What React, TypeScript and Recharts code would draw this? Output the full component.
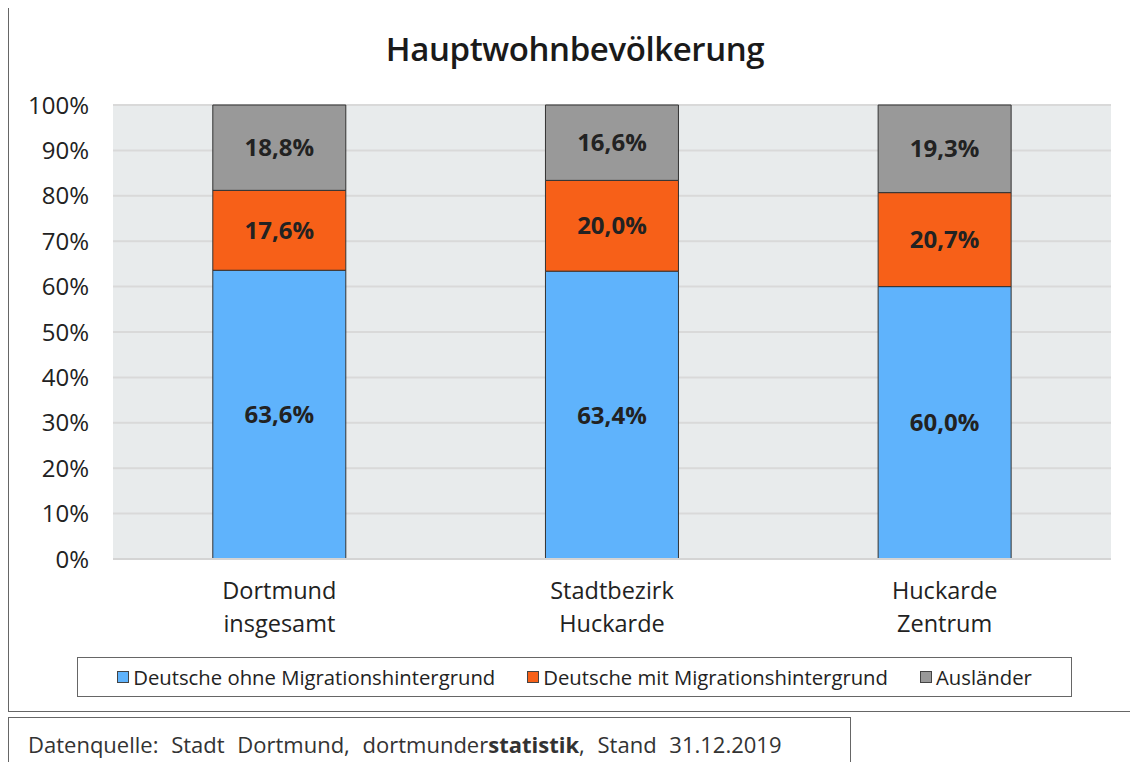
import React from "react";
import { BarChart, Bar, XAxis, YAxis, CartesianGrid, LabelList } from "recharts";

const categories = ["Dortmund\ninsgesamt", "Stadtbezirk\nHuckarde", "Huckarde\nZentrum"];
const ohneMigration = [63.6, 63.4, 60.0];
const mitMigration = [17.6, 20.0, 20.7];
const auslaender = [18.8, 16.6, 19.3];
const yTicks = [0, 10, 20, 30, 40, 50, 60, 70, 80, 90, 100];

const seriesNames = ["Deutsche ohne Migrationshintergrund", "Deutsche mit Migrationshintergrund", "Ausländer"];
const colors = ["#5fb3fc", "#f76018", "#999999"];

const data = categories.map((c, i) => ({
  name: c,
  ohne: ohneMigration[i],
  mit: mitMigration[i],
  aus: auslaender[i],
}));

const FONT = "'Open Sans', 'Noto Sans', sans-serif";

const fmt = (v: any) => `${Number(v).toFixed(1).replace(".", ",")}%`;

const XTick = (props: any) => {
  const { x, y, payload } = props;
  const lines = String(payload.value).split("\n");
  return (
    <g transform={`translate(${x},${y})`}>
      {lines.map((l, i) => (
        <text key={i} x={0} y={32 + i * 33} textAnchor="middle" fontSize={23.5} fill="#222" fontFamily={FONT}>
          {l}
        </text>
      ))}
    </g>
  );
};

export default function App() {
  return (
    <div style={{ position: "relative", width: 1130, height: 754, fontFamily: FONT, color: "#222", overflow: "hidden" }}>
      <div
        style={{
          position: "absolute",
          left: 0,
          top: -1,
          width: 1135,
          height: 705,
          border: "1px solid #666",
          boxSizing: "border-box",
        }}
      />
      <div
        style={{
          position: "absolute",
          left: 0,
          top: 16,
          width: 1134,
          textAlign: "center",
          fontSize: 33,
          fontWeight: 600,
          letterSpacing: -0.4,
          lineHeight: "50px",
          color: "#1a1a1a",
        }}
      >
        Hauptwohnbevölkerung
      </div>
      <div style={{ position: "absolute", left: 0, top: 0 }}>
        <BarChart
          width={1130}
          height={640}
          data={data}
          margin={{ top: 97, right: 27, bottom: 9, left: 15 }}
          barCategoryGap="30%"
        >
          <CartesianGrid vertical={false} fill="#e8ebec" stroke="#d9d9d9" strokeWidth={2} />
          <XAxis
            dataKey="name"
            height={80}
            tickLine={false}
            axisLine={{ stroke: "#d4d4d4", strokeWidth: 2 }}
            tick={<XTick />}
            interval={0}
          />
          <YAxis
            width={90}
            domain={[0, 100]}
            ticks={yTicks}
            tickFormatter={(v) => `${v}%`}
            axisLine={false}
            tickLine={false}
            tickSize={0}
            tickMargin={24}
            tick={{ fontSize: 24, fill: "#222", fontFamily: FONT }}
          />
          <Bar dataKey="ohne" stackId="a" fill={colors[0]} stroke="#333" strokeWidth={1} isAnimationActive={false}>
            <LabelList dataKey="ohne" position="center" formatter={fmt} fontSize={24} fontWeight="bold" fill="#222" fontFamily={FONT} />
          </Bar>
          <Bar dataKey="mit" stackId="a" fill={colors[1]} stroke="#333" strokeWidth={1} isAnimationActive={false}>
            <LabelList dataKey="mit" position="center" formatter={fmt} fontSize={24} fontWeight="bold" fill="#222" fontFamily={FONT} />
          </Bar>
          <Bar dataKey="aus" stackId="a" fill={colors[2]} stroke="#333" strokeWidth={1} isAnimationActive={false}>
            <LabelList dataKey="aus" position="center" formatter={fmt} fontSize={24} fontWeight="bold" fill="#222" fontFamily={FONT} />
          </Bar>
        </BarChart>
      </div>
      <div
        style={{
          position: "absolute",
          left: 69,
          top: 649,
          width: 995,
          height: 40,
          border: "1px solid #666",
          boxSizing: "border-box",
          display: "flex",
          alignItems: "center",
          justifyContent: "center",
          gap: 32,
          fontSize: 20.3,
        }}
      >
        {seriesNames.map((n, i) => (
          <div key={n} style={{ display: "flex", alignItems: "center" }}>
            <span
              style={{
                display: "inline-block",
                width: 10,
                height: 10,
                background: colors[i],
                border: "1px solid #444",
                marginRight: 4,
              }}
            />
            <span>{n}</span>
          </div>
        ))}
      </div>
      <div
        style={{
          position: "absolute",
          left: 0,
          top: 709,
          width: 843,
          height: 60,
          border: "1px solid #666",
          boxSizing: "border-box",
          paddingLeft: 19,
          paddingTop: 11,
          fontSize: 22,
          wordSpacing: 7,
          color: "#333",
          whiteSpace: "nowrap",
        }}
      >
        Datenquelle: Stadt Dortmund, dortmunder<b>statistik</b>, Stand 31.12.2019
      </div>
    </div>
  );
}
